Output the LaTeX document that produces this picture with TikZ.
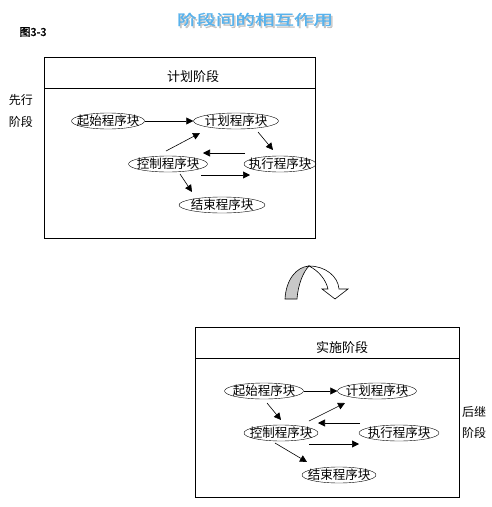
\documentclass[tikz,border=0pt]{standalone}
\usepackage{fontspec}
\setmainfont{Noto Sans CJK SC}
\newfontfamily\cjkbold[FakeBold=1.6]{Noto Sans CJK SC}
\usepackage{tikz}
\usetikzlibrary{calc,positioning,arrows.meta,shapes.geometric}

\definecolor{titleblue}{RGB}{88,178,236}
\definecolor{bandgray}{RGB}{200,200,200}
\newcommand{\blk}[1]{\raisebox{-.36em}[0pt][0pt]{\makebox[0pt]{#1}}}

\tikzset{
    prog/.style={draw,ellipse,inner sep=0pt,minimum height=16pt,font=\fontsize{12.5}{13}\selectfont},
    flow/.style={-{Triangle[length=7pt,width=7pt]},line width=0.6pt},
    frame/.style={line width=0.8pt},
    side/.style={font=\fontsize{12}{13}\selectfont,align=left}
}

\begin{document}
\begin{tikzpicture}[x=1pt,y=-1pt]
    \useasboundingbox (0,0) rectangle (492,507);
    % title
    \node[text=black!40,opacity=0.5,font=\cjkbold\fontsize{15}{15}\selectfont,xscale=1.3,yscale=0.95] at (256.5,21.5) {阶段间的相互作用};
    \node[text=titleblue,font=\cjkbold\fontsize{15}{15}\selectfont,xscale=1.3,yscale=0.95] (title) at (255,19.5) {阶段间的相互作用};
    \node[font=\cjkbold\fontsize{11}{11}\selectfont] (fig) at (33,32) {图3-3};
    %
    % upper stage
    \draw[frame] (44,57) rectangle (315,238);
    \draw[frame] (44,88) -- (315,88);
    \node[font=\fontsize{13}{13}\selectfont] (head1) at (193,77) {计划阶段};
    \node[side] (pre) at (21,100) {先行};
    \node[side] (pre2) at (21,122) {阶段};
    %
    \node[prog,minimum width=73pt] (start1) at (108,121) {\blk{起始程序块}};
    \node[prog,minimum width=85pt] (plan1)  at (236,121) {\blk{计划程序块}};
    \node[prog,minimum width=79pt] (ctrl1)  at (168,164) {\blk{控制程序块}};
    \node[prog,minimum width=72pt] (exec1)  at (280,164) {\blk{执行程序块}};
    \node[prog,minimum width=86pt] (end1)   at (222,205) {\blk{结束程序块}};
    %
    \draw[flow] (start1.east) -- (plan1.west);
    \draw[flow] ($(ctrl1)+(-2,-13)$) -- ($(plan1)+(-36,12)$);
    \draw[flow] ($(plan1)+(22,11)$) -- ($(exec1)+(-7,-14)$);
    \draw[flow] ($(exec1)+(-35,-11)$) -- ($(ctrl1)+(35,-11)$);
    \draw[flow] ($(ctrl1)+(33,11)$) -- ($(exec1)+(-30,11)$);
    \draw[flow] ($(ctrl1)+(12,10)$) -- ($(end1)+(-30,-13)$);
    %
    % turn arrow
    \draw[line width=0.6pt,fill=white] (309,266) .. controls (325,266) and (338,276) .. (339,289) -- (348,289) -- (335,299) -- (322,289) -- (328,289) .. controls (326,280) and (319,271) .. (309,266) -- cycle;
    \draw[line width=0.6pt,fill=bandgray] (285,299) .. controls (286,280) and (296,267) .. (309,266) .. controls (303,272) and (298,285) .. (297,299) -- cycle;
    %
    % lower stage
    \draw[frame] (195,327) rectangle (459,497);
    \draw[frame] (195,358) -- (459,358);
    \node[font=\fontsize{13}{13}\selectfont] (head2) at (342,348) {实施阶段};
    \node[side] (post) at (474,412) {后继};
    \node[side] (post2) at (474,433) {阶段};
    %
    \node[prog,minimum width=79pt] (start2) at (264,391) {\blk{起始程序块}};
    \node[prog,minimum width=79pt] (plan2)  at (377,391) {\blk{计划程序块}};
    \node[prog,minimum width=74pt] (ctrl2)  at (281,433) {\blk{控制程序块}};
    \node[prog,minimum width=80pt] (exec2)  at (399,433) {\blk{执行程序块}};
    \node[prog,minimum width=74pt] (end2)   at (339,475) {\blk{结束程序块}};
    %
    \draw[flow] (start2.east) -- (plan2.west);
    \draw[flow] ($(start2)+(3,12)$) -- ($(ctrl2)+(0,-13)$);
    \draw[flow] ($(ctrl2)+(28,-12)$) -- ($(plan2)+(-32,12)$);
    \draw[flow] ($(exec2)+(-39,-10)$) -- ($(ctrl2)+(37,-10)$);
    \draw[flow] ($(ctrl2)+(28,11)$) -- ($(exec2)+(-40,11)$);
    \draw[flow] ($(ctrl2)+(-6,10)$) -- ($(end2)+(-32,-13)$);
\end{tikzpicture}
\end{document}
